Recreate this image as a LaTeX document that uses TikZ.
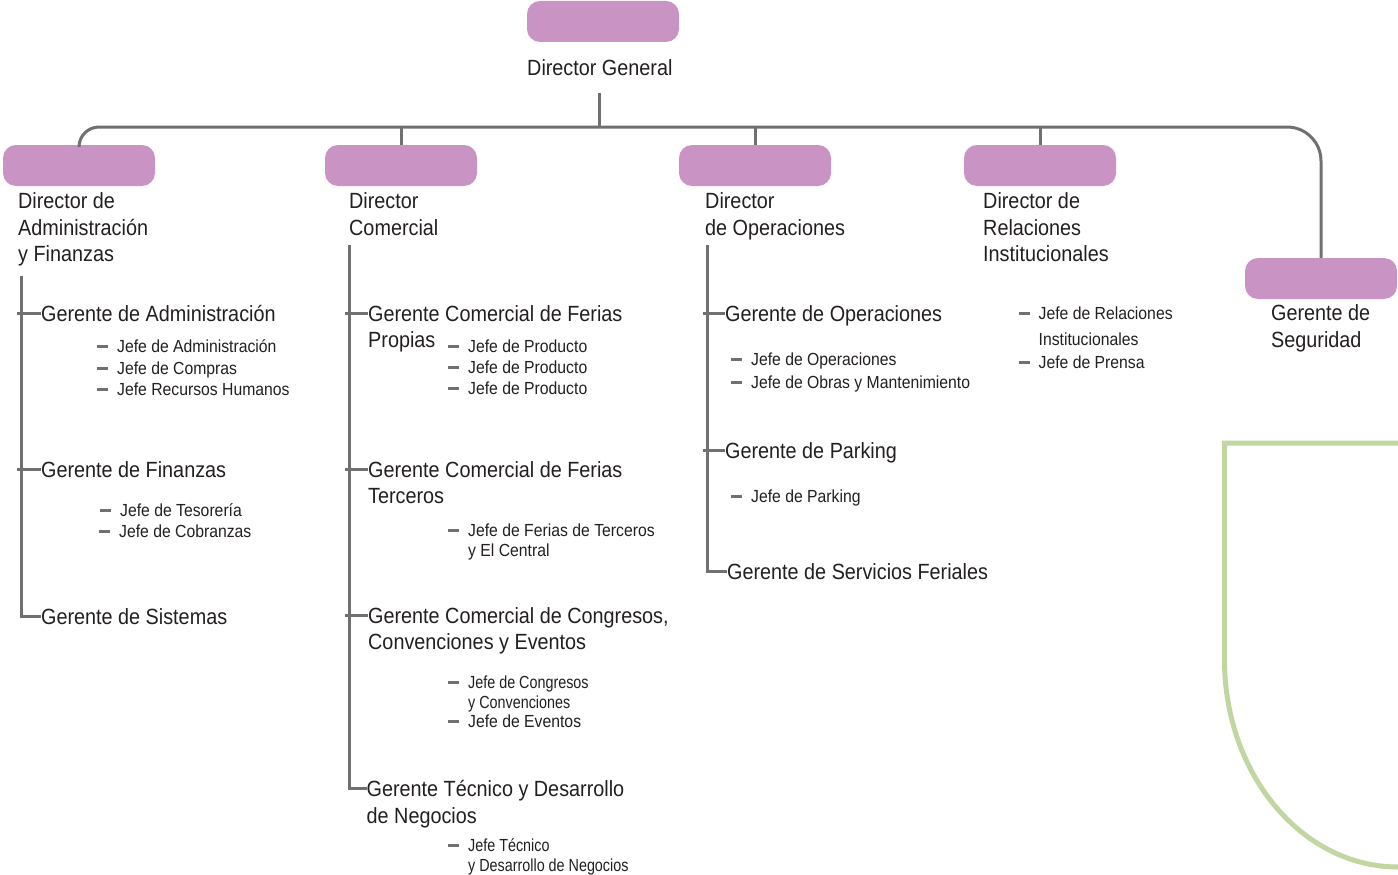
\documentclass[tikz,border=0pt]{standalone}
\usepackage{fontspec}
\setmainfont[FakeStretch=0.9]{Liberation Sans}
\newfontfamily\narrowfont[FakeStretch=0.82]{Liberation Sans}
\usepackage{xcolor}
\definecolor{boxpink}{RGB}{201,148,196}
\definecolor{linegray}{RGB}{112,112,112}
\definecolor{textdark}{RGB}{35,31,32}
\definecolor{shieldgreen}{RGB}{194,214,161}
\newcommand\orgrows[1]{\begin{tabular}[t]{@{}l@{}}#1\end{tabular}}

\begin{document}
\begin{tikzpicture}[x=1pt,y=-1pt,
  rolebox/.style={rectangle,rounded corners=13pt,fill=boxpink,minimum width=152pt,minimum height=41pt,inner sep=0pt},
  cargo/.style={anchor=west,inner sep=0pt,text height=16pt,text depth=0pt,text=textdark,font=\fontsize{22}{26.7}\selectfont},
  jefe/.style={anchor=west,inner sep=0pt,text height=12.5pt,text depth=0pt,text=textdark,font=\fontsize{17.5}{20}\selectfont},
  link/.style={draw=linegray,line width=3pt},
  jefedash/.style={draw=linegray,line width=3pt}]
\useasboundingbox (0,0) rectangle (1398,875);

\node[rolebox] (bgen) at (603,21.5) {};
\node[rolebox] (badm) at (79,165.5) {};
\node[rolebox] (bcom) at (401,165.5) {};
\node[rolebox] (bope) at (755,165.5) {};
\node[rolebox] (brel) at (1040,165.5) {};
\node[rolebox] (bseg) at (1321,278.5) {};

\node[cargo] (tgen) at (527,68) {Director General};
\node[cargo] (tadm) at (18,200.5) {\orgrows{Director de\\Administración\\y Finanzas}};
\node[cargo] (tcom) at (349,200.5) {\orgrows{Director\\Comercial}};
\node[cargo] (tope) at (705,200.5) {\orgrows{Director\\de Operaciones}};
\node[cargo] (trel) at (983,200.5) {\orgrows{Director de\\Relaciones\\Institucionales}};
\node[cargo] (tseg) at (1271,312.5) {\orgrows{Gerente de\\Seguridad}};

\coordinate (dgfoot) at (599,93);
\coordinate (bar) at (599,127);
\draw[link] (dgfoot) -- (bar);
\draw[link] (badm.north) [rounded corners=20pt] |- (bar) [rounded corners=34pt] -| (bseg.north);
\foreach \b in {bcom,bope,brel}
  \draw[link] (\b.north) -- (\b.north |- bar);

\node[cargo] (gadm) at (41,313) {Gerente de Administración};
\node[cargo] (gfin) at (41,469) {Gerente de Finanzas};
\node[cargo] (gsis) at (41,616) {Gerente de Sistemas};
\node[cargo] (gfp) at (368,313) {\orgrows{Gerente Comercial de Ferias\\Propias}};
\node[cargo] (gft) at (368,469) {\orgrows{Gerente Comercial de Ferias\\Terceros}};
\node[cargo] (gcc) at (368,615) {\orgrows{Gerente Comercial de Congresos,\\Convenciones y Eventos}};
\node[cargo] (gtd) at (366.5,788.5) {\orgrows{Gerente Técnico y Desarrollo\\de Negocios}};
\node[cargo] (gop) at (725,313) {Gerente de Operaciones};
\node[cargo] (gpk) at (725,450) {Gerente de Parking};
\node[cargo] (gsf) at (727,571.5) {Gerente de Servicios Feriales};

\coordinate (c1) at (21,276);
\coordinate (c2) at (349,245);
\coordinate (c3) at (707,245);
\draw[link] (c1) |- (gsis.west);
\draw[link] (c2) |- (gtd.west);
\draw[link] (c3) |- (gsf.west);
\foreach \g/\c in {gadm/c1,gfin/c1,gfp/c2,gft/c2,gcc/c2,gop/c3,gpk/c3}
  \draw[link] (\g.west -| \c) ++(-4,0) -- (\g.west);

\foreach \x/\y/\txt [count=\i] in {117/346.5/Jefe de Administración,117/368/Jefe de Compras,117/389/Jefe Recursos Humanos,
  120/510/Jefe de Tesorería,119/531.5/Jefe de Cobranzas,
  468/346.5/Jefe de Producto,468/367.5/Jefe de Producto,468/388.5/Jefe de Producto,
  468/530/\orgrows{Jefe de Ferias de Terceros\\y El Central},
  468/682/\narrowfont\orgrows{Jefe de Congresos\\y Convenciones},468/721/Jefe de Eventos,
  468/845.5/\narrowfont\orgrows{Jefe Técnico\\y Desarrollo de Negocios},
  751/359/Jefe de Operaciones,751/382/Jefe de Obras y Mantenimiento,751/496/Jefe de Parking,
  1038.5/313/\orgrows{Jefe de Relaciones\\[6pt]Institucionales},1038.5/362.5/Jefe de Prensa}
{
  \node[jefe] (j\i) at (\x,\y) {\txt};
  \draw[jefedash] ([xshift=-20pt]j\i.west) -- ++(11,0);
}

\draw[draw=shieldgreen,line width=5pt] (1420,443) -- (1224.5,443) -- (1224.5,660)
  .. controls (1224.5,774) and (1302,867) .. (1398,867) -- (1420,867);
\end{tikzpicture}
\end{document}
